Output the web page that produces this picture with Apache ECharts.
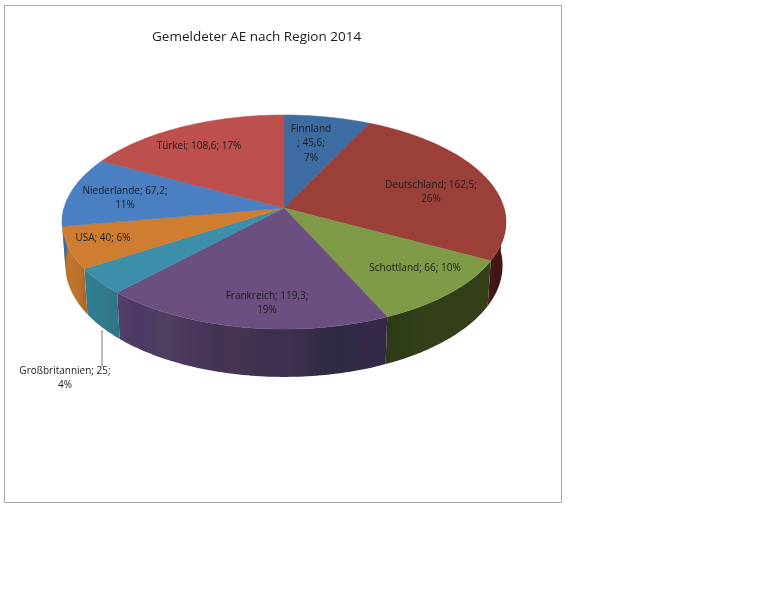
<!DOCTYPE html>
<html><head><meta charset="utf-8">
<style>html,body{margin:0;padding:0;background:#fff}#c{width:768px;height:614px}</style>
<script src="https://cdn.jsdelivr.net/npm/echarts@6/dist/echarts.min.js"></script>
</head><body><div id="c"></div>
<script>
const categories = ['Finnland','Deutschland','Schottland','Frankreich','Großbritannien','USA','Niederlande','Türkei'];
const values = [45.6,162.5,66,119.3,25,40,67.2,108.6];
const titleText = 'Gemeldeter AE nach Region 2014';

// styling and layout, kept apart from the data
const topColors = ['#3c6ca1','#9b3f39','#7f9b47','#6a4f80','#3b8fa8','#cf7d31','#4a7fc2','#bd4f4c'];
const wallStops = [
  ['#2a4a70','#2a4a70'],
  ['#4a1a18','#3d1513','#4a1a18'],
  ['#2c3a17','#343f1a','#333f19','#343f1a'],
  ['#524068','#4c3a64','#50405f','#49375e','#433353','#45354f','#3c2f50','#3f3050','#352c48','#2d2a42','#342a48','#35294a'],
  ['#2f8096','#327a8c','#2e7488'],
  ['#b56d2a','#c0752f','#b8722e','#aa6428'],
  ['#3a6aa0','#3a6aa0'],
  ['#8a3a38','#8a3a38']
];
const labelCenters = [[311,129],[431,185],[415,268],[267,296],[65,371],[103,238],[125,191],[199,146]];
const labelWrap = [2,1,0,1,1,0,1,0];
const leader = {sliceIndex:4, y0:330, y1:367, x:102};

const CX=284, CY=208, RX=220, RY=105.2, K=0.131;
const WALL_DY=43, WALL_SY=1.04, WALL_SX=0.985;
const total = values.reduce((a,b)=>a+b,0);
const starts=[]; { let c=0; values.forEach(v=>{starts.push(c);c+=v;}); }

function project(frac, wall){
  const t=frac*2*Math.PI, u=Math.sin(t), v=-Math.cos(t), w=1/(1-K*v);
  const x=RX*u*w, y=RY*v*w;
  return wall ? [CX+x*WALL_SX, CY+WALL_DY+y*WALL_SY] : [CX+x, CY+y];
}
function arc(f0,f1,wall){
  const n=Math.max(2,Math.ceil((f1-f0)*360)), pts=[];
  for(let i=0;i<=n;i++) pts.push(project(f0+(f1-f0)*i/n,wall));
  return pts;
}
function fmt(v){ return String(v).replace('.',','); }
function labelOf(i){
  const n=categories[i], v=fmt(values[i]), p=Math.round(values[i]/total*100)+'%';
  if(labelWrap[i]===2) return [n,'; '+v+';',p];
  if(labelWrap[i]===1) return [n+'; '+v+';',p];
  return [n+'; '+v+'; '+p];
}
const FONT='10px "Open Sans"';

function renderWall(params,api){
  const i=params.dataIndex, f0=starts[i]/total, f1=f0+api.value(0)/total;
  // only the front half of the disc shows a wall
  const a=Math.max(f0,0.25), b=Math.min(f1,0.75);
  if(b<=a) return {type:'group',children:[]};
  const top=arc(a,b,false), bot=arc(a,b,true).reverse();
  const xs=top.concat(bot).map(p=>p[0]);
  const x0=Math.min(...xs), x1=Math.max(...xs);
  const stops=wallStops[i];
  return {type:'polygon',shape:{points:top.concat(bot)},
    style:{fill:new echarts.graphic.LinearGradient(x0,0,x1,0,
      (i>=3?stops:stops).map((c,k)=>({offset:k/(stops.length-1),color:c})),true),
      stroke:null}};
}
function renderTop(params,api){
  const i=params.dataIndex, f0=starts[i]/total, f1=f0+api.value(0)/total;
  return {type:'polygon',shape:{points:[[CX,CY]].concat(arc(f0,f1,false))},
    style:{fill:topColors[i],stroke:topColors[i],lineWidth:0.5}};
}
function renderLabel(params,api){
  const i=params.dataIndex, c=labelCenters[i];
  const lines=labelOf(i), children=[];
  lines.forEach((l,k)=>children.push({type:'text',style:{text:l,x:c[0],y:c[1]+k*14.5,
    font:FONT,fill:'#1c1c1c',align:'center',verticalAlign:'middle'}}));
  if(i===leader.sliceIndex) children.push({type:'line',shape:{x1:leader.x,y1:leader.y0,x2:leader.x,y2:leader.y1},
    style:{stroke:'#777',lineWidth:1}});
  return {type:'group',children};
}
const chart=echarts.init(document.getElementById('c'),null,{renderer:'canvas'});
chart.setOption({
  animation:false,
  backgroundColor:'#fff',
  title:{text:titleText,left:147,top:25,textStyle:{fontFamily:'Open Sans',fontSize:13.5,fontWeight:'normal',color:'#1a1a1a'}},
  graphic:[{type:'rect',z:-1,shape:{x:4.5,y:5.5,width:557,height:497},style:{fill:'#fff',stroke:'#a8a8a8',lineWidth:1}}],
  series:[
    {type:'custom',coordinateSystem:'none',z:2,data:values.map(v=>[v]),renderItem:renderWall,silent:true},
    {type:'custom',coordinateSystem:'none',z:3,data:values.map(v=>[v]),renderItem:renderTop,silent:true},
    {type:'custom',coordinateSystem:'none',z:4,data:values.map(v=>[v]),renderItem:renderLabel,silent:true}
  ]
});
</script></body></html>
